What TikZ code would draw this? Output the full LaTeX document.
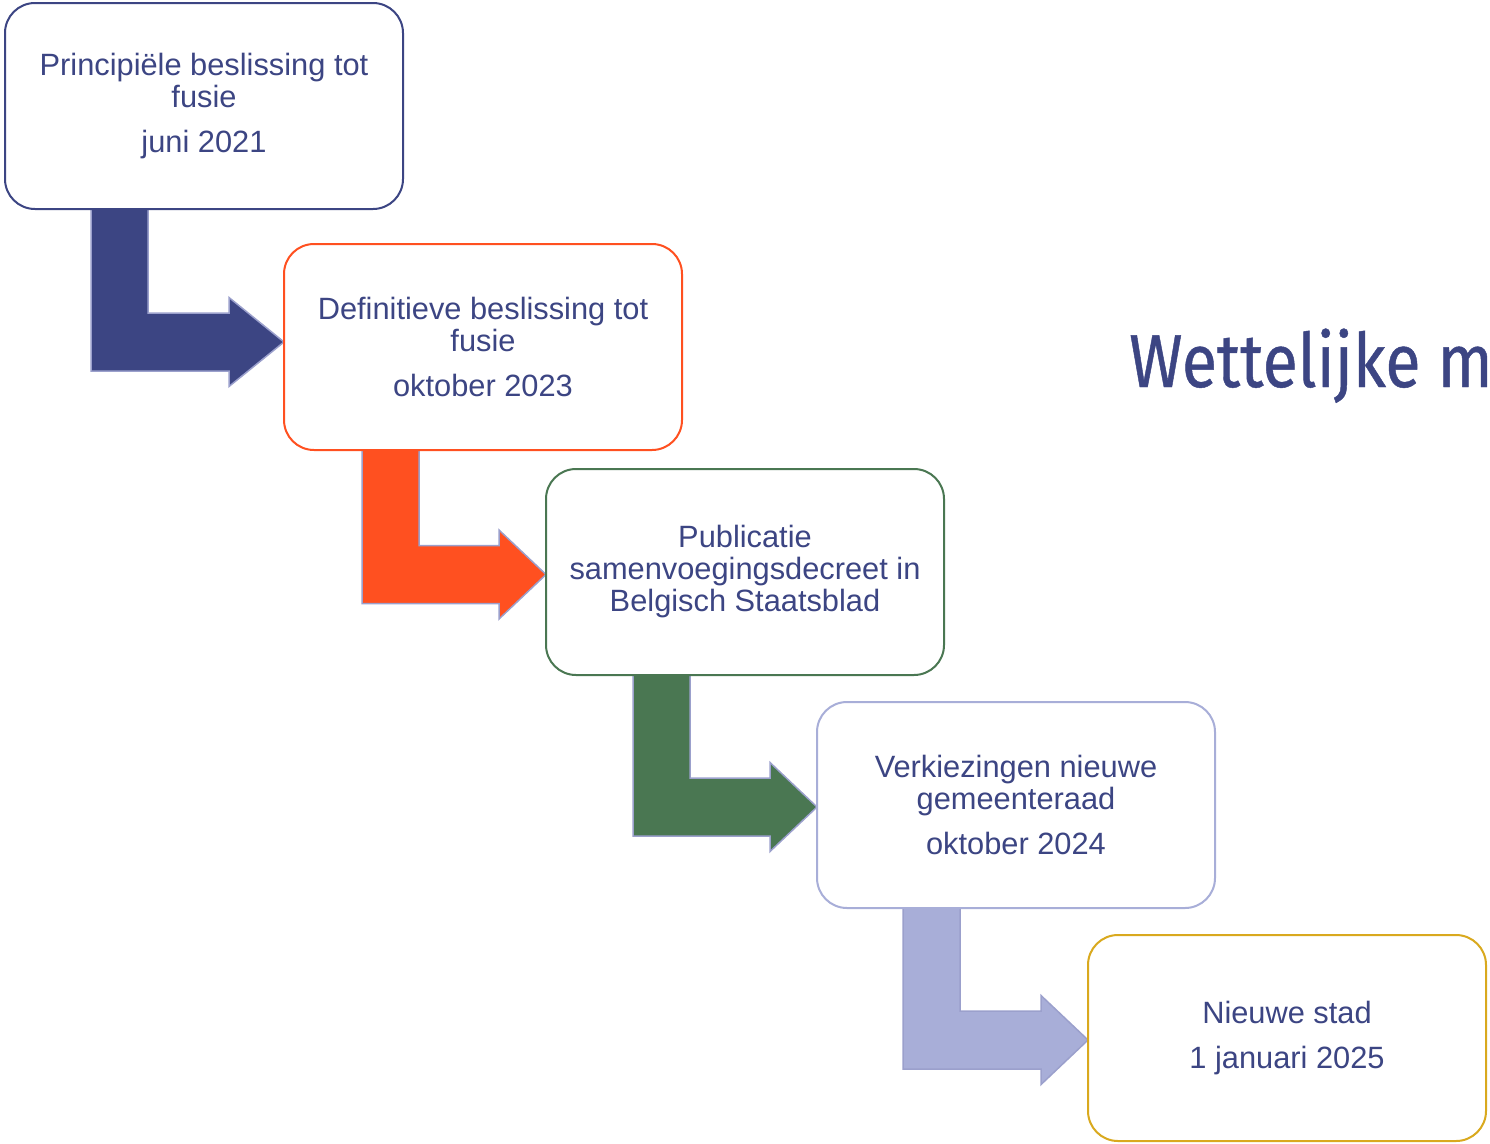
\documentclass[tikz,border=0pt]{standalone}
\usepackage{fontspec}
\setmainfont{Liberation Sans}
\newfontfamily\titlefont[FakeStretch=0.86,FakeBold=0.6]{Fira Sans}
\usetikzlibrary{calc}
\pgfdeclarelayer{bg}
\pgfsetlayers{bg,main}
\definecolor{navy}{HTML}{3C4583}
\definecolor{orangered}{HTML}{FF5020}
\definecolor{darkgreen}{HTML}{4A7752}
\definecolor{lavender}{HTML}{A8AED8}
\definecolor{gold}{HTML}{D9A91E}
\definecolor{outl}{HTML}{9BA0CC}
% #1 from, #2 to, #3 bar offset, #4 colour, #5 head length, #6 y shift
\newcommand\bentarrow[6]{%
  \begin{pgfonlayer}{bg}
  \path[bentarrow=#4] let \p1=(#1.south west), \p2=($(#2.west)+(0,#6)$) in
    (\x1+#3pt,\y1) -- (\x1+#3pt+57pt,\y1) -- (\x1+#3pt+57pt,\y2+29pt)
    -- (\x2-#5pt,\y2+29pt) -- (\x2-#5pt,\y2+44.5pt) -- (\x2,\y2)
    -- (\x2-#5pt,\y2-44.5pt) -- (\x2-#5pt,\y2-29pt) -- (\x1+#3pt,\y2-29pt) -- cycle;
  \end{pgfonlayer}}
\begin{document}
\begin{tikzpicture}[x=1pt,y=-1pt,
  stepbox/.style={draw=#1, line width=2pt, fill=white, rounded corners=30pt,
    minimum width=398pt, minimum height=206pt, align=center, text=navy,
    font=\fontsize{30.8}{32}\selectfont, inner sep=0pt, outer sep=0pt},
  bentarrow/.style={fill=#1, draw=outl, line width=1.5pt, line join=miter}]
\useasboundingbox (0,0) rectangle (1490,1143);
\node[stepbox=navy] (b1) at (204,106) {Principiële beslissing tot\\fusie\\[13pt]juni 2021};
\node[stepbox=orangered] (b2) at (483,347) {Definitieve beslissing tot\\fusie\\[13pt]oktober 2023};
\node[stepbox=darkgreen] (b3) at (745,572) {Publicatie\\samenvoegingsdecreet in\\Belgisch Staatsblad};
\node[stepbox=lavender] (b4) at (1016,805) {Verkiezingen nieuwe\\gemeenteraad\\[13pt]oktober 2024};
\node[stepbox=gold] (b5) at (1287,1038) {Nieuwe stad\\[13pt]1 januari 2025};
\node[anchor=base west, text=navy, inner sep=0pt, font=\titlefont\fontsize{75}{80}\selectfont] (title) at (1129,387) {Wettelijke m};
\bentarrow{b1}{b2}{86}{navy}{55}{-5}
\bentarrow{b2}{b3}{78}{orangered}{47}{2.5}
\bentarrow{b3}{b4}{87}{darkgreen}{47}{2}
\bentarrow{b4}{b5}{86}{lavender}{47}{2}
\end{tikzpicture}
\end{document}
